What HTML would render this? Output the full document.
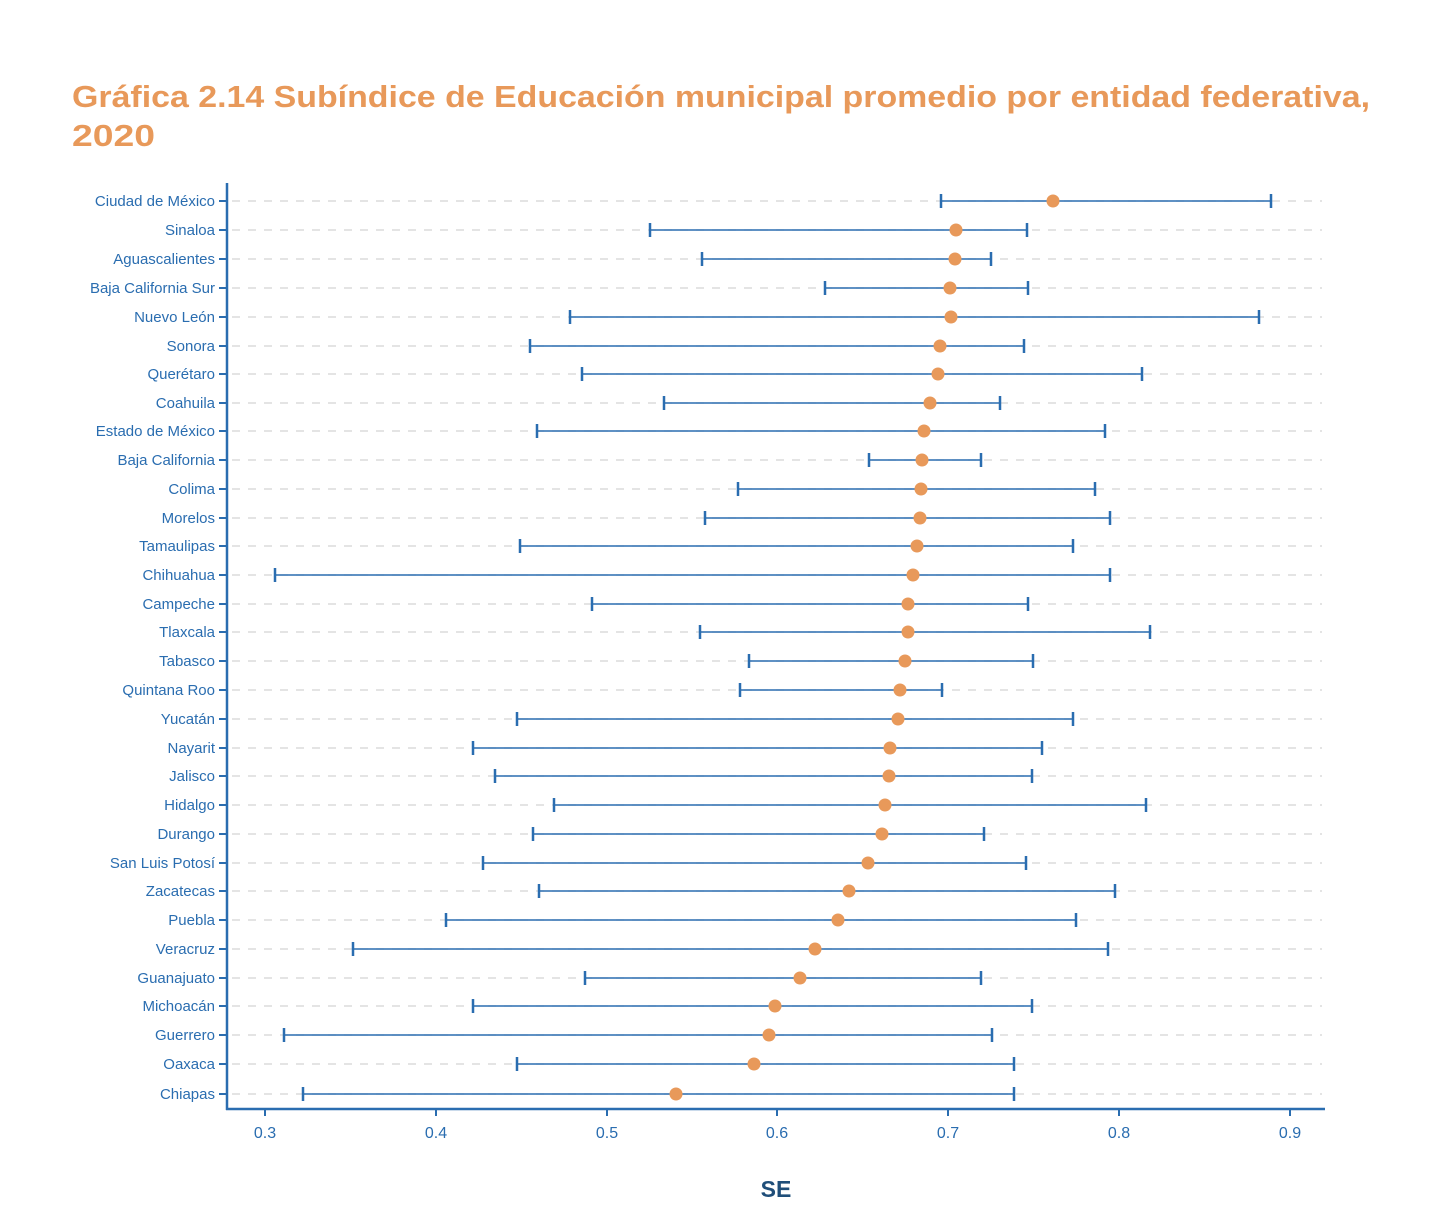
<!DOCTYPE html>
<html><head><meta charset="utf-8"><style>
body{margin:0;background:#fff;}
svg text{font-family:"Liberation Sans",sans-serif;}
</style></head><body>
<svg width="1450" height="1216" xmlns="http://www.w3.org/2000/svg">
<text x="72" y="107" font-size="31" font-weight="bold" fill="#E8995A" textLength="1298" lengthAdjust="spacingAndGlyphs">Gráfica 2.14 Subíndice de Educación municipal promedio por entidad federativa,</text>
<text x="72" y="146" font-size="31" font-weight="bold" fill="#E8995A" textLength="83" lengthAdjust="spacingAndGlyphs">2020</text>
<g stroke="#d4d4d4" stroke-width="1.3" stroke-dasharray="8,8">
<line x1="232" x2="1322" y1="201" y2="201"/><line x1="232" x2="1322" y1="230" y2="230"/><line x1="232" x2="1322" y1="259" y2="259"/><line x1="232" x2="1322" y1="288" y2="288"/><line x1="232" x2="1322" y1="317" y2="317"/><line x1="232" x2="1322" y1="346" y2="346"/><line x1="232" x2="1322" y1="374" y2="374"/><line x1="232" x2="1322" y1="403" y2="403"/><line x1="232" x2="1322" y1="431" y2="431"/><line x1="232" x2="1322" y1="460" y2="460"/><line x1="232" x2="1322" y1="489" y2="489"/><line x1="232" x2="1322" y1="518" y2="518"/><line x1="232" x2="1322" y1="546" y2="546"/><line x1="232" x2="1322" y1="575" y2="575"/><line x1="232" x2="1322" y1="604" y2="604"/><line x1="232" x2="1322" y1="632" y2="632"/><line x1="232" x2="1322" y1="661" y2="661"/><line x1="232" x2="1322" y1="690" y2="690"/><line x1="232" x2="1322" y1="719" y2="719"/><line x1="232" x2="1322" y1="748" y2="748"/><line x1="232" x2="1322" y1="776" y2="776"/><line x1="232" x2="1322" y1="805" y2="805"/><line x1="232" x2="1322" y1="834" y2="834"/><line x1="232" x2="1322" y1="863" y2="863"/><line x1="232" x2="1322" y1="891" y2="891"/><line x1="232" x2="1322" y1="920" y2="920"/><line x1="232" x2="1322" y1="949" y2="949"/><line x1="232" x2="1322" y1="978" y2="978"/><line x1="232" x2="1322" y1="1006" y2="1006"/><line x1="232" x2="1322" y1="1035" y2="1035"/><line x1="232" x2="1322" y1="1064" y2="1064"/><line x1="232" x2="1322" y1="1094" y2="1094"/>
</g>
<g stroke="#2a6db0" stroke-width="2.5" fill="none">
<line x1="227" y1="183" x2="227" y2="1110"/>
<line x1="226" y1="1109" x2="1325" y2="1109"/>
</g>
<g stroke="#2a6db0" stroke-width="2">
<line x1="219" x2="227" y1="201" y2="201"/><line x1="219" x2="227" y1="230" y2="230"/><line x1="219" x2="227" y1="259" y2="259"/><line x1="219" x2="227" y1="288" y2="288"/><line x1="219" x2="227" y1="317" y2="317"/><line x1="219" x2="227" y1="346" y2="346"/><line x1="219" x2="227" y1="374" y2="374"/><line x1="219" x2="227" y1="403" y2="403"/><line x1="219" x2="227" y1="431" y2="431"/><line x1="219" x2="227" y1="460" y2="460"/><line x1="219" x2="227" y1="489" y2="489"/><line x1="219" x2="227" y1="518" y2="518"/><line x1="219" x2="227" y1="546" y2="546"/><line x1="219" x2="227" y1="575" y2="575"/><line x1="219" x2="227" y1="604" y2="604"/><line x1="219" x2="227" y1="632" y2="632"/><line x1="219" x2="227" y1="661" y2="661"/><line x1="219" x2="227" y1="690" y2="690"/><line x1="219" x2="227" y1="719" y2="719"/><line x1="219" x2="227" y1="748" y2="748"/><line x1="219" x2="227" y1="776" y2="776"/><line x1="219" x2="227" y1="805" y2="805"/><line x1="219" x2="227" y1="834" y2="834"/><line x1="219" x2="227" y1="863" y2="863"/><line x1="219" x2="227" y1="891" y2="891"/><line x1="219" x2="227" y1="920" y2="920"/><line x1="219" x2="227" y1="949" y2="949"/><line x1="219" x2="227" y1="978" y2="978"/><line x1="219" x2="227" y1="1006" y2="1006"/><line x1="219" x2="227" y1="1035" y2="1035"/><line x1="219" x2="227" y1="1064" y2="1064"/><line x1="219" x2="227" y1="1094" y2="1094"/>
<line x1="265" x2="265" y1="1109" y2="1116"/><line x1="436" x2="436" y1="1109" y2="1116"/><line x1="607" x2="607" y1="1109" y2="1116"/><line x1="777" x2="777" y1="1109" y2="1116"/><line x1="948" x2="948" y1="1109" y2="1116"/><line x1="1119" x2="1119" y1="1109" y2="1116"/><line x1="1290" x2="1290" y1="1109" y2="1116"/>
</g>
<g font-size="15" fill="#2a6db0" text-anchor="end">
<text x="215" y="206">Ciudad de México</text><text x="215" y="235">Sinaloa</text><text x="215" y="264">Aguascalientes</text><text x="215" y="293">Baja California Sur</text><text x="215" y="322">Nuevo León</text><text x="215" y="351">Sonora</text><text x="215" y="379">Querétaro</text><text x="215" y="408">Coahuila</text><text x="215" y="436">Estado de México</text><text x="215" y="465">Baja California</text><text x="215" y="494">Colima</text><text x="215" y="523">Morelos</text><text x="215" y="551">Tamaulipas</text><text x="215" y="580">Chihuahua</text><text x="215" y="609">Campeche</text><text x="215" y="637">Tlaxcala</text><text x="215" y="666">Tabasco</text><text x="215" y="695">Quintana Roo</text><text x="215" y="724">Yucatán</text><text x="215" y="753">Nayarit</text><text x="215" y="781">Jalisco</text><text x="215" y="810">Hidalgo</text><text x="215" y="839">Durango</text><text x="215" y="868">San Luis Potosí</text><text x="215" y="896">Zacatecas</text><text x="215" y="925">Puebla</text><text x="215" y="954">Veracruz</text><text x="215" y="983">Guanajuato</text><text x="215" y="1011">Michoacán</text><text x="215" y="1040">Guerrero</text><text x="215" y="1069">Oaxaca</text><text x="215" y="1099">Chiapas</text>
</g>
<g font-size="16" fill="#2a6db0" text-anchor="middle">
<text x="265" y="1138">0.3</text><text x="436" y="1138">0.4</text><text x="607" y="1138">0.5</text><text x="777" y="1138">0.6</text><text x="948" y="1138">0.7</text><text x="1119" y="1138">0.8</text><text x="1290" y="1138">0.9</text>
</g>
<text x="776" y="1197" font-size="23" font-weight="bold" fill="#1f4e79" text-anchor="middle">SE</text>
<g stroke="#2a6db0" stroke-width="1.5">
<path d="M941 201H1271M650 230H1027M702 259H991M825 288H1028M570 317H1259M530 346H1024M582 374H1142M664 403H1000M537 431H1105M869 460H981M738 489H1095M705 518H1110M520 546H1073M275 575H1110M592 604H1028M700 632H1150M749 661H1033M740 690H942M517 719H1073M473 748H1042M495 776H1032M554 805H1146M533 834H984M483 863H1026M539 891H1115M446 920H1076M353 949H1108M585 978H981M473 1006H1032M284 1035H992M517 1064H1014M303 1094H1014"/>
</g>
<g stroke="#2a6db0" stroke-width="2.5">
<path d="M941 194v14M1271 194v14M650 223v14M1027 223v14M702 252v14M991 252v14M825 281v14M1028 281v14M570 310v14M1259 310v14M530 339v14M1024 339v14M582 367v14M1142 367v14M664 396v14M1000 396v14M537 424v14M1105 424v14M869 453v14M981 453v14M738 482v14M1095 482v14M705 511v14M1110 511v14M520 539v14M1073 539v14M275 568v14M1110 568v14M592 597v14M1028 597v14M700 625v14M1150 625v14M749 654v14M1033 654v14M740 683v14M942 683v14M517 712v14M1073 712v14M473 741v14M1042 741v14M495 769v14M1032 769v14M554 798v14M1146 798v14M533 827v14M984 827v14M483 856v14M1026 856v14M539 884v14M1115 884v14M446 913v14M1076 913v14M353 942v14M1108 942v14M585 971v14M981 971v14M473 999v14M1032 999v14M284 1028v14M992 1028v14M517 1057v14M1014 1057v14M303 1087v14M1014 1087v14"/>
</g>
<g fill="#E8995A">
<circle cx="1053" cy="201" r="6.5"/><circle cx="956" cy="230" r="6.5"/><circle cx="955" cy="259" r="6.5"/><circle cx="950" cy="288" r="6.5"/><circle cx="951" cy="317" r="6.5"/><circle cx="940" cy="346" r="6.5"/><circle cx="938" cy="374" r="6.5"/><circle cx="930" cy="403" r="6.5"/><circle cx="924" cy="431" r="6.5"/><circle cx="922" cy="460" r="6.5"/><circle cx="921" cy="489" r="6.5"/><circle cx="920" cy="518" r="6.5"/><circle cx="917" cy="546" r="6.5"/><circle cx="913" cy="575" r="6.5"/><circle cx="908" cy="604" r="6.5"/><circle cx="908" cy="632" r="6.5"/><circle cx="905" cy="661" r="6.5"/><circle cx="900" cy="690" r="6.5"/><circle cx="898" cy="719" r="6.5"/><circle cx="890" cy="748" r="6.5"/><circle cx="889" cy="776" r="6.5"/><circle cx="885" cy="805" r="6.5"/><circle cx="882" cy="834" r="6.5"/><circle cx="868" cy="863" r="6.5"/><circle cx="849" cy="891" r="6.5"/><circle cx="838" cy="920" r="6.5"/><circle cx="815" cy="949" r="6.5"/><circle cx="800" cy="978" r="6.5"/><circle cx="775" cy="1006" r="6.5"/><circle cx="769" cy="1035" r="6.5"/><circle cx="754" cy="1064" r="6.5"/><circle cx="676" cy="1094" r="6.5"/>
</g>
</svg>
</body></html>
